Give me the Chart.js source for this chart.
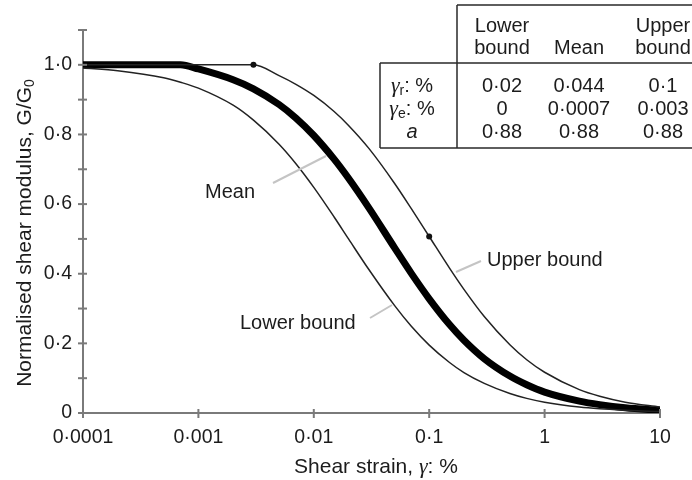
<!DOCTYPE html>
<html>
<head>
<meta charset="utf-8">
<script src="https://cdn.jsdelivr.net/npm/chart.js@4.4.1/dist/chart.umd.min.js"></script>
<style>
  body { margin: 0; background: #fff; }
  #wrap { width: 692px; height: 480px; }
</style>
</head>
<body>
<div id="wrap"><canvas id="gChart" width="692" height="480"></canvas></div>
<script>
// values (shear strain in %, G/G0)
const strain = [0.0001, 0.0002, 0.0005, 0.0007, 0.001, 0.002, 0.003, 0.005, 0.007, 0.01,
  0.015, 0.02, 0.03, 0.05, 0.07, 0.1, 0.15, 0.2, 0.3, 0.5, 0.7, 1, 2, 3, 5, 10];
const lowerBound = [0.991, 0.983, 0.963, 0.950, 0.933, 0.884, 0.841, 0.772, 0.716, 0.648,
  0.563, 0.500, 0.412, 0.309, 0.249, 0.195, 0.145, 0.116, 0.085, 0.056, 0.042, 0.031, 0.017, 0.012, 0.008, 0.004];
const meanCurve = [1.0, 1.0, 1.0, 1.0, 0.988, 0.957, 0.931, 0.886, 0.847, 0.797,
  0.729, 0.674, 0.589, 0.475, 0.401, 0.328, 0.254, 0.209, 0.156, 0.106, 0.081, 0.060, 0.034, 0.024, 0.015, 0.008];
const upperBound = [1.0, 1.0, 1.0, 1.0, 1.0, 1.0, 1.0, 0.969, 0.944, 0.912,
  0.866, 0.826, 0.760, 0.660, 0.587, 0.507, 0.416, 0.355, 0.277, 0.196, 0.153, 0.117, 0.067, 0.048, 0.031, 0.017];
const markedStrains = [0.003, 0.1]; // dots on the upper bound curve

const xTickValues = [0.0001, 0.001, 0.01, 0.1, 1, 10];
const xTickLabels = ['0·0001', '0·001', '0·01', '0·1', '1', '10'];
const yTickValues = [0, 0.1, 0.2, 0.3, 0.4, 0.5, 0.6, 0.7, 0.8, 0.9, 1.0, 1.1];
const yTickLabels = ['0', '', '0·2', '', '0·4', '', '0·6', '', '0·8', '', '1·0', ''];

// parameter table
const tableHeads = [['Lower', 'bound'], ['', 'Mean'], ['Upper', 'bound']];
const gammaR = ['0·02', '0·044', '0·1'];
const gammaE = ['0', '0·0007', '0·003'];
const aValues = ['0·88', '0·88', '0·88'];

const SANS = '"Liberation Sans", Arial, sans-serif';
const INK = '#1c1c1c';

function pts(ys) {
  return strain.map((s, i) => ({ x: s, y: ys[i] }));
}

// draws a row of text pieces with mixed fonts, centred on cx
function richText(ctx, parts, cx, cy) {
  let total = 0;
  parts.forEach(p => { ctx.font = p.f; p.w = ctx.measureText(p.t).width; total += p.w; });
  let x = cx - total / 2;
  ctx.textAlign = 'left';
  ctx.textBaseline = 'middle';
  parts.forEach(p => {
    ctx.font = p.f;
    ctx.fillText(p.t, x, cy + (p.dy || 0));
    x += p.w;
  });
}

const extras = {
  id: 'extras',
  afterDraw(chart) {
    const ctx = chart.ctx;
    const xs = chart.scales.x, ys = chart.scales.y;
    const area = chart.chartArea;
    ctx.save();

    // tick marks crossing the axes
    ctx.strokeStyle = '#7a7a7a';
    ctx.lineWidth = 2;
    yTickValues.forEach(v => {
      const y = ys.getPixelForValue(v);
      ctx.beginPath(); ctx.moveTo(area.left - 5, y); ctx.lineTo(area.left + 4, y); ctx.stroke();
    });
    xTickValues.forEach(v => {
      const x = xs.getPixelForValue(v);
      ctx.beginPath(); ctx.moveTo(x, area.bottom - 4); ctx.lineTo(x, area.bottom + 5); ctx.stroke();
    });

    // leader lines for curve labels
    ctx.strokeStyle = '#c4c4c4';
    ctx.lineWidth = 2;
    [[273, 183, 326, 156], [370, 318, 392, 305], [456, 272, 481, 261]].forEach(l => {
      ctx.beginPath(); ctx.moveTo(l[0], l[1]); ctx.lineTo(l[2], l[3]); ctx.stroke();
    });

    ctx.fillStyle = INK;
    ctx.font = '20px ' + SANS;
    ctx.textBaseline = 'middle';
    ctx.textAlign = 'left';
    ctx.fillText('Mean', 205, 192);
    ctx.fillText('Lower bound', 240, 323);
    ctx.fillText('Upper bound', 487, 260);

    // axis titles
    richText(ctx, [
      { t: 'Shear strain, ', f: '21px ' + SANS },
      { t: 'γ', f: 'italic 22px "Liberation Serif"' },
      { t: ': %', f: '21px ' + SANS }
    ], 376, 467);
    ctx.save();
    ctx.translate(25, 233);
    ctx.rotate(-Math.PI / 2);
    richText(ctx, [
      { t: 'Normalised shear modulus, G/G', f: '21px ' + SANS },
      { t: '0', f: '14px ' + SANS, dy: 5 }
    ], 0, 0);
    ctx.restore();

    // parameter table
    ctx.strokeStyle = '#2a2a2a';
    ctx.lineWidth = 1.5;
    ctx.beginPath();
    ctx.moveTo(457, 5); ctx.lineTo(692, 5);
    ctx.moveTo(457, 5); ctx.lineTo(457, 148);
    ctx.moveTo(380, 63); ctx.lineTo(692, 63);
    ctx.moveTo(380, 63); ctx.lineTo(380, 148);
    ctx.moveTo(380, 148); ctx.lineTo(692, 148);
    ctx.stroke();

    const colX = [502, 579, 663];
    ctx.fillStyle = INK;
    ctx.font = '20px ' + SANS;
    ctx.textAlign = 'center';
    tableHeads.forEach((h, i) => {
      ctx.fillText(h[0], colX[i], 26);
      ctx.fillText(h[1], colX[i], 48);
    });
    [gammaR, gammaE, aValues].forEach((row, r) => {
      row.forEach((t, i) => ctx.fillText(t, colX[i], 86 + r * 23));
    });
    richText(ctx, [
      { t: 'γ', f: 'italic 22px "Liberation Serif"' },
      { t: 'r', f: '14px ' + SANS, dy: 5 },
      { t: ': %', f: '20px ' + SANS }
    ], 412, 86);
    richText(ctx, [
      { t: 'γ', f: 'italic 22px "Liberation Serif"' },
      { t: 'e', f: '14px ' + SANS, dy: 5 },
      { t: ': %', f: '20px ' + SANS }
    ], 412, 109);
    richText(ctx, [{ t: 'a', f: 'italic 20px ' + SANS }], 412, 132);

    ctx.restore();
  }
};

new Chart(document.getElementById('gChart'), {
  type: 'line',
  data: {
    datasets: [
      {
        label: 'Lower bound',
        data: pts(lowerBound),
        borderColor: '#222', borderWidth: 1.5,
        pointRadius: 0, cubicInterpolationMode: 'monotone'
      },
      {
        label: 'Upper bound',
        data: pts(upperBound),
        borderColor: '#222', borderWidth: 1.5,
        pointRadius: strain.map(s => markedStrains.includes(s) ? 3 : 0),
        pointBackgroundColor: '#111', pointBorderWidth: 0,
        cubicInterpolationMode: 'monotone'
      },
      {
        label: 'Mean',
        data: pts(meanCurve),
        borderColor: '#000', borderWidth: 7,
        pointRadius: 0, cubicInterpolationMode: 'monotone'
      }
    ]
  },
  options: {
    responsive: false,
    animation: false,
    layout: { padding: { top: 30, right: 32, left: 0, bottom: 0 } },
    plugins: { legend: { display: false }, tooltip: { enabled: false } },
    scales: {
      x: {
        type: 'logarithmic',
        min: 0.0001, max: 10,
        afterBuildTicks: s => { s.ticks = xTickValues.map(v => ({ value: v })); },
        afterFit: s => { s.height = 67; },
        grid: { display: false, drawTicks: false },
        border: { display: true, color: '#7a7a7a', width: 2 },
        ticks: {
          autoSkip: false, maxRotation: 0, padding: 13,
          color: INK, font: { family: SANS, size: 19.5 },
          callback: v => xTickLabels[xTickValues.indexOf(v)] ?? ''
        }
      },
      y: {
        min: 0, max: 1.1,
        afterBuildTicks: s => { s.ticks = yTickValues.map(v => ({ value: v })); },
        afterFit: s => { s.width = 83; },
        grid: { display: false, drawTicks: false },
        border: { display: true, color: '#7a7a7a', width: 2 },
        ticks: {
          autoSkip: false, padding: 11,
          color: INK, font: { family: SANS, size: 19.5 },
          callback: (v, i) => yTickLabels[i]
        }
      }
    }
  },
  plugins: [extras]
});
</script>
</body>
</html>
